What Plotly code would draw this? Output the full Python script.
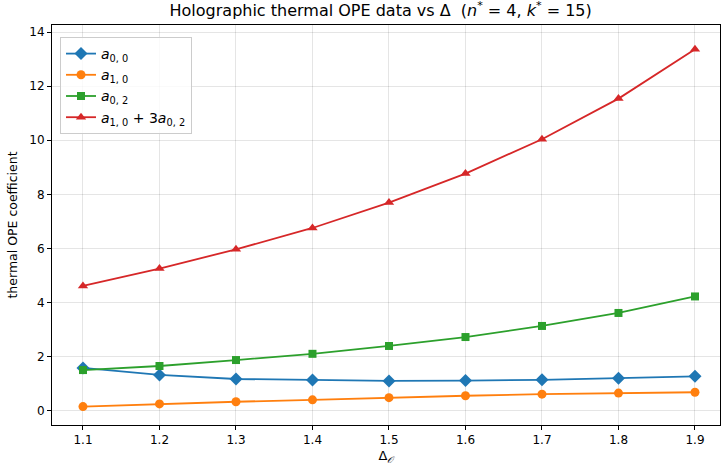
import plotly.graph_objects as go

delta = [1.1, 1.2, 1.3, 1.4, 1.5, 1.6, 1.7, 1.8, 1.9]
a00 = [1.59, 1.33, 1.18, 1.14, 1.11, 1.12, 1.15, 1.21, 1.28]
a10 = [0.16, 0.26, 0.34, 0.41, 0.49, 0.56, 0.62, 0.66, 0.69]
a02 = [1.51, 1.66, 1.88, 2.11, 2.40, 2.73, 3.14, 3.62, 4.23]
comb = [4.62, 5.26, 5.97, 6.76, 7.70, 8.77, 10.04, 11.54, 13.36]
tick_vals_x = [1.1, 1.2, 1.3, 1.4, 1.5, 1.6, 1.7, 1.8, 1.9]
tick_vals_y = [0, 2, 4, 6, 8, 10, 12, 14]

series = [
    ("<i>a</i><sub>0, 0</sub>", a00, "#1f77b4", "diamond", 10),
    ("<i>a</i><sub>1, 0</sub>", a10, "#ff7f0e", "circle", 9),
    ("<i>a</i><sub>0, 2</sub>", a02, "#2ca02c", "square", 8),
    ("<i>a</i><sub>1, 0</sub> + 3<i>a</i><sub>0, 2</sub>", comb, "#d62728", "triangle-up", 9),
]

fig = go.Figure()
for name, ys, col, sym, sz in series:
    fig.add_trace(go.Scatter(
        x=delta, y=ys, name=name, mode="lines+markers",
        line=dict(color=col, width=1.8),
        marker=dict(symbol=sym, size=sz, color=col),
    ))

axis_common = dict(
    showline=True, linecolor="black", linewidth=1, mirror=True,
    ticks="outside", ticklen=4, tickcolor="black",
    showgrid=True, gridcolor="rgba(0,0,0,0.1)", gridwidth=1,
    zeroline=False, tickfont=dict(size=12, color="black"),
)

fig.update_layout(
    width=727, height=472,
    margin=dict(l=52, r=7, t=25, b=47),
    paper_bgcolor="white", plot_bgcolor="white",
    font=dict(family="DejaVu Sans", color="black"),
    title=dict(
        text="Holographic thermal OPE data vs Δ&nbsp;&nbsp;(<i>n</i><sup>*</sup> = 4, <i>k</i><sup>*</sup> = 15)",
        xref="paper", x=0.492, xanchor="center", y=0.99, yanchor="top",
        font=dict(size=16),
    ),
    xaxis=dict(axis_common, range=[1.0595, 1.9327], tickvals=tick_vals_x,
               ticktext=[f"{v:.1f}" for v in tick_vals_x],
               title=dict(text="Δ<sub><i>𝒪</i></sub>", font=dict(size=13), standoff=4)),
    yaxis=dict(axis_common, range=[-0.52, 14.26], tickvals=tick_vals_y,
               title=dict(text="thermal OPE coefficient", font=dict(size=12.5), standoff=8)),
    legend=dict(
        x=0.012, y=0.97, xanchor="left", yanchor="top",
        bgcolor="rgba(255,255,255,0.8)", bordercolor="#cccccc", borderwidth=1,
        font=dict(size=14), tracegroupgap=0,
    ),
    showlegend=True,
)

fig.write_html("out.html")
